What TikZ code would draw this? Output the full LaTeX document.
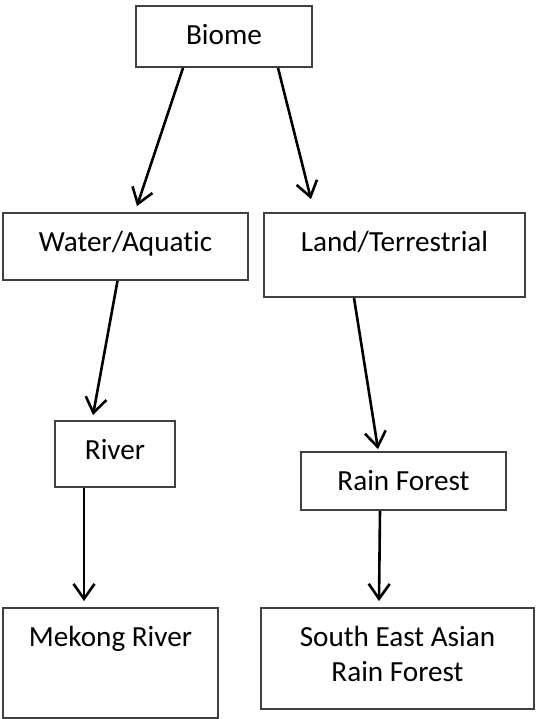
\documentclass[tikz,border=0pt]{standalone}
\usepackage{fontspec}
\setmainfont[Ligatures=CommonOff]{Carlito}
\usetikzlibrary{arrows.meta}
\begin{document}
\begin{tikzpicture}[x=1pt,y=-1pt,
  box/.style={draw=black!75, line width=1.8pt, rectangle, inner sep=0pt},
  lbl/.style={font=\fontsize{29.2}{35}\selectfont, inner sep=0pt, anchor=base, align=center},
  link/.style={line width=2.6pt, -{Straight Barb[length=15pt,width=21pt,line width=2.6pt]}}]
\useasboundingbox (0,0) rectangle (535,719);
% boxes (centre, size)
\node[box, minimum width=176pt, minimum height=61pt]  (biome)  at (224,36.5)   {};
\node[box, minimum width=245pt, minimum height=67pt]  (water)  at (125.5,246.5) {};
\node[box, minimum width=261pt, minimum height=84pt]  (land)   at (394.5,255)   {};
\node[box, minimum width=120pt, minimum height=66pt]  (river)  at (115,454)     {};
\node[box, minimum width=205pt, minimum height=58pt]  (rain)   at (403.5,481)   {};
\node[box, minimum width=215pt, minimum height=110pt] (mekong) at (110.5,663)   {};
\node[box, minimum width=273pt, minimum height=101pt] (sea)    at (397.5,658.5) {};
% labels, baseline 39pt below each box top
\node[lbl] (tbiome)  at ([yshift=-39pt]biome.north)  {Biome};
\node[lbl] (twater)  at ([yshift=-39pt]water.north)  {Water/Aquatic};
\node[lbl] (tland)   at ([yshift=-39pt]land.north)   {Land/Terrestrial};
\node[lbl] (triver)  at ([yshift=-39pt]river.north)  {River};
\node[lbl] (train)   at ([yshift=-39pt]rain.north)   {Rain Forest};
\node[lbl] (tmekong) at ([yshift=-39pt]mekong.north) {Mekong River};
\node[lbl] (tsea1)   at ([yshift=-39pt]sea.north)    {South East Asian};
\node[lbl] (tsea2)   at ([yshift=-74pt]sea.north)    {Rain Forest};
% connectors
\draw[link] ([xshift=-41pt]biome.south) -- ([xshift=11.5pt,yshift=6pt]water.north);
\draw[link] ([xshift=54pt]biome.south)  -- ([xshift=-83.5pt,yshift=13pt]land.north);
\draw[link] ([xshift=-8pt]water.south)  -- ([xshift=-22pt,yshift=5pt]river.north);
\draw[link] ([xshift=-40.5pt]land.south) -- ([xshift=-25.5pt,yshift=2pt]rain.north);
\draw[link] ([xshift=-31pt]river.south) -- ([xshift=-26.5pt,yshift=6pt]mekong.north);
\draw[link] ([xshift=-23.5pt]rain.south) -- ([xshift=-18.5pt,yshift=6pt]sea.north);
\end{tikzpicture}
\end{document}
